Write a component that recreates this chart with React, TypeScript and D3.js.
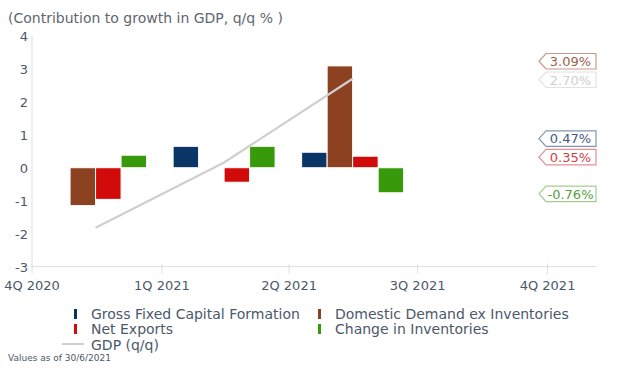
import React from "react";
import * as d3 from "d3";

const quarterTicks = [new Date(2020, 9, 1), new Date(2021, 0, 1), new Date(2021, 3, 1), new Date(2021, 6, 1), new Date(2021, 9, 1)];
const quarterLabels = ["4Q 2020", "1Q 2021", "2Q 2021", "3Q 2021", "4Q 2021"];
const periodDates = [new Date(2020, 10, 15), new Date(2021, 1, 14), new Date(2021, 4, 16)];

const gfcf: (number | null)[] = [null, 0.65, 0.47];
const domesticDemand: (number | null)[] = [-1.15, null, 3.09];
const netExports: (number | null)[] = [-0.96, -0.44, 0.35];
const inventories: (number | null)[] = [0.38, 0.65, -0.76];
const gdp = [-1.82, 0.16, 2.7];

const yTicks = [-3, -2, -1, 0, 1, 2, 3, 4];

const seriesNames = ["Gross Fixed Capital Formation", "Domestic Demand ex Inventories", "Net Exports", "Change in Inventories"];
const seriesColors = ["#0b3566", "#8c4120", "#d10a0a", "#389a0a"];
const tagText = ["#3f5b80", "#a0604a", "#cf3f48", "#56a03c", "#cfcfcf"];
const tagStroke = ["#8396b0", "#c79a88", "#e39095", "#a3cf8e", "#e2e2e2"];
const FONT = "DejaVu Sans, sans-serif";
const TXT = "#4b586a";

export default function App() {
  const W = 627, H = 378;
  const x = d3.scaleTime().domain([new Date(2020, 9, 1), new Date(2021, 10, 5)]).range([32, 597]);
  const y = d3.scaleLinear().domain([-3, 4]).range([266.6, 35.9]);
  const band = d3.scaleBand<number>().domain([0, 1, 2, 3]).range([-51, 51]).paddingInner(0);
  const series = [gfcf, domesticDemand, netExports, inventories];

  const line = d3.line<number>().x((_, i) => x(periodDates[i])).y((d) => y(d));

  const lastIdx = periodDates.length - 1;
  const tags = [
    ...series.map((s, k) => ({ v: s[lastIdx] as number, k })),
    { v: gdp[lastIdx], k: 4 },
  ].map((t) => ({ ...t, y: y(t.v) + 1 }));
  tags.sort((a, b) => b.y - a.y);
  const gap = 18.5;
  for (let i = 1; i < tags.length; i++) {
    if (tags[i].y > tags[i - 1].y - gap) tags[i].y = tags[i - 1].y - gap;
  }
  const tipX = 539, boxL = 546, boxR = 596, th = 15.5;

  const legendItems = [
    { name: seriesNames[0], color: seriesColors[0], col: 0, row: 0 },
    { name: seriesNames[1], color: seriesColors[1], col: 1, row: 0 },
    { name: seriesNames[2], color: seriesColors[2], col: 0, row: 1 },
    { name: seriesNames[3], color: seriesColors[3], col: 1, row: 1 },
  ];
  const colX = [91, 335];
  const rowY = [314, 329, 345];

  return (
    <svg width={W} height={H} style={{ position: "absolute", left: 0, top: 0, background: "#fff" }} fontFamily={FONT}>
      <rect x={0} y={0} width={W} height={H} fill="#fff" />
      <text x={8} y={23} fontSize={14} fill="#5f6670">(Contribution to growth in GDP, q/q % )</text>

      <line x1={32} x2={32} y1={y(4)} y2={y(-3)} stroke="#dedede" strokeWidth={1} />
      <line x1={32} x2={597} y1={y(-3)} y2={y(-3)} stroke="#dedede" strokeWidth={1} />
      {quarterTicks.map((d, i) => (
        <g key={i}>
          <line x1={x(d)} x2={x(d)} y1={y(-3) - 3} y2={y(-3) + 7} stroke="#dedede" />
          <text x={x(d)} y={290} textAnchor="middle" fontSize={13} fill={TXT}>{quarterLabels[i]}</text>
        </g>
      ))}
      {yTicks.map((t) => (
        <text key={t} x={28} y={y(t) + 5} textAnchor="end" fontSize={13} fill={TXT}>{t}</text>
      ))}

      {periodDates.map((d, i) => (
        <g key={i}>
          {series.map((s, k) => {
            const v = s[i];
            if (v === null || v === undefined) return null;
            const x0 = x(d) + (band(k) as number);
            return (
              <rect key={k} x={x0} width={band.bandwidth()} y={Math.min(y(v), y(0))} height={Math.abs(y(v) - y(0))}
                fill={seriesColors[k]} stroke="#fff" strokeWidth={1} />
            );
          })}
        </g>
      ))}

      <path d={line(gdp) || ""} fill="none" stroke="#cfcfcf" strokeWidth={2.2} />

      {tags.map((t, i) => (
        <g key={i}>
          <path d={`M${tipX},${t.y} L${boxL},${t.y - th / 2} L${boxR},${t.y - th / 2} L${boxR},${t.y + th / 2} L${boxL},${t.y + th / 2} Z`}
            fill="#fff" stroke={tagStroke[t.k]} strokeWidth={1.2} />
          <text x={(boxL + boxR) / 2 - 0.5} y={t.y + 4.8} textAnchor="middle" fontSize={13} fill={tagText[t.k]}>
            {`${t.v.toFixed(2)}%`}
          </text>
        </g>
      ))}

      {legendItems.map((it, i) => (
        <g key={i}>
          <rect x={colX[it.col] - 17} y={rowY[it.row] - 5} width={3} height={10} fill={it.color} />
          <text x={colX[it.col]} y={rowY[it.row] + 5} fontSize={14} fill={TXT}>{it.name}</text>
        </g>
      ))}
      <line x1={62} x2={84} y1={rowY[2] - 1} y2={rowY[2] - 1} stroke="#cfcfcf" strokeWidth={2} />
      <text x={colX[0]} y={rowY[2] + 5} fontSize={14} fill={TXT}>GDP (q/q)</text>
      <text x={8} y={361} fontSize={9} fill={TXT}>Values as of 30/6/2021</text>
    </svg>
  );
}
